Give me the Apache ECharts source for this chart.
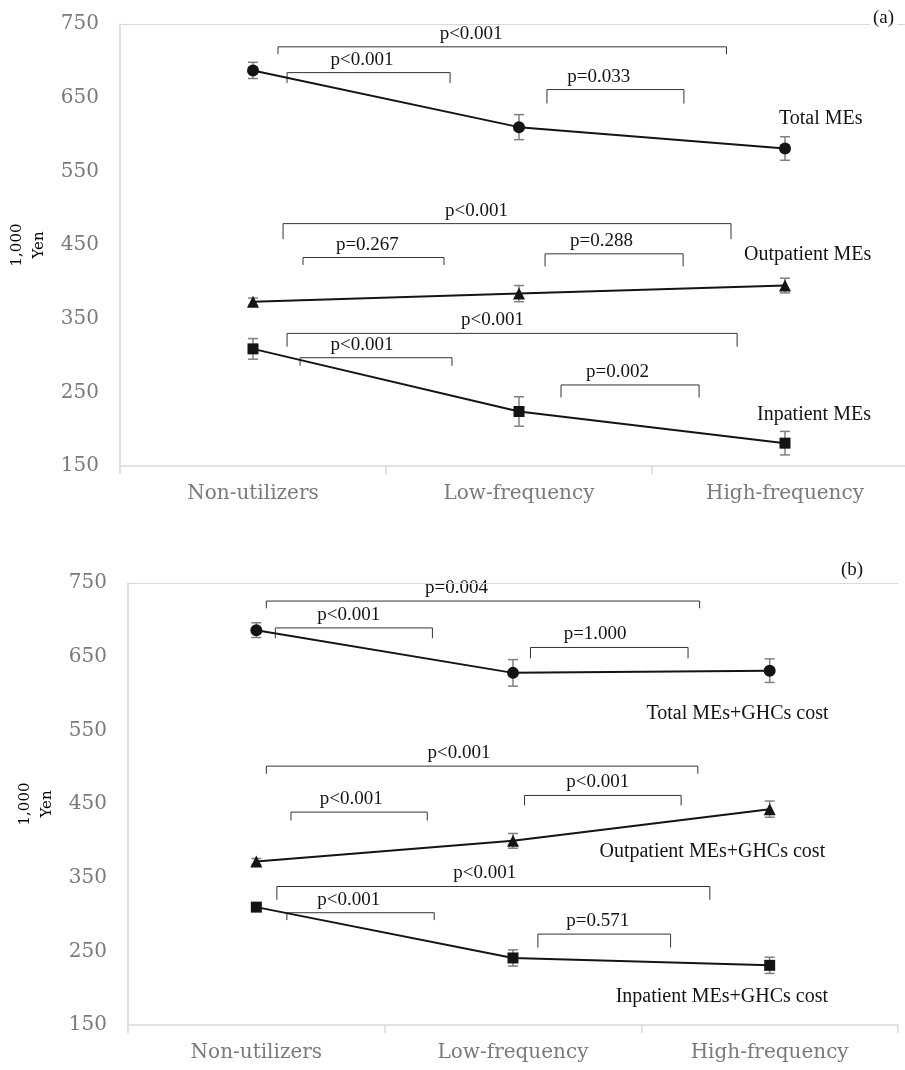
<!DOCTYPE html>
<html><head><meta charset="utf-8">
<script src="https://cdn.jsdelivr.net/npm/echarts@6/dist/echarts.min.js"></script>
<style>html,body{margin:0;padding:0;background:#fff}#c{width:905px;height:1070px}</style>
</head><body><div id="c"></div>
<script>
const categories = ['Non-utilizers', 'Low-frequency', 'High-frequency'];
const yMin = 150, yMax = 750, yStep = 100;

// Panel (a): means and error half-widths (1,000 Yen)
const aTotal = [687, 610, 581];
const aTotalErr = [11, 17, 16];
const aOut = [373, 384, 395];
const aOutErr = [5, 11, 10];
const aIn = [309, 224, 181];
const aInErr = [14, 20, 16];

// Panel (b)
const bTotal = [686, 628, 631];
const bTotalErr = [10, 18, 16];
const bOut = [372, 400, 443];
const bOutErr = [4, 10, 11];
const bIn = [310, 241, 231];
const bInErr = [5, 11, 11];

// Significance brackets: [x start, x end, y of bar, y of tick ends, x of text, text]
const bracketsA = [
  [0.094, 1.780, 719, 709, 0.82, 'p<0.001'],
  [0.128, 0.741, 684, 670, 0.41, 'p<0.001'],
  [1.105, 1.620, 661, 642, 1.30, 'p=0.033'],
  [0.113, 1.797, 479, 458, 0.84, 'p<0.001'],
  [0.188, 0.718, 433, 423, 0.43, 'p=0.267'],
  [1.098, 1.617, 438, 421, 1.31, 'p=0.288'],
  [0.128, 1.820, 330, 312, 0.90, 'p<0.001'],
  [0.177, 0.748, 297, 286, 0.41, 'p<0.001'],
  [1.158, 1.677, 260, 243, 1.37, 'p=0.002']
];
const bracketsB = [
  [0.039, 1.727, 725.5, 715.6, 0.78, 'p=0.004'],
  [0.074, 0.686, 689, 675, 0.36, 'p<0.001'],
  [1.068, 1.682, 662.5, 647.6, 1.32, 'p=1.000'],
  [0.039, 1.720, 501.4, 491, 0.79, 'p<0.001'],
  [0.135, 0.666, 439, 427.6, 0.37, 'p<0.001'],
  [1.045, 1.655, 461.6, 448, 1.33, 'p<0.001'],
  [0.080, 1.767, 338, 320, 0.89, 'p<0.001'],
  [0.119, 0.693, 302.4, 292.4, 0.36, 'p<0.001'],
  [1.097, 1.614, 273.4, 255.2, 1.33, 'p=0.571']
];

// Series name labels: [x, y, text]
const labelsA = [
  [1.977, 622, 'Total MEs'],
  [1.846, 437, 'Outpatient MEs'],
  [1.895, 220, 'Inpatient MEs']
];
const labelsB = [
  [1.52, 572, 'Total MEs+GHCs cost'],
  [1.337, 385, 'Outpatient MEs+GHCs cost'],
  [1.40, 188, 'Inpatient MEs+GHCs cost']
];

const AXIS_GRAY = '#d9d9d9';
const LABEL_GRAY = '#7a7a7a';
const INK = '#141414';

function pts(vals) { return vals.map((v, i) => [i, v]); }
function errPts(vals, errs) { return vals.map((v, i) => [i, v, errs[i]]); }

function errRender(params, api) {
  const x = api.value(0), v = api.value(1), e = api.value(2);
  const hi = api.coord([x, v + e]), lo = api.coord([x, v - e]);
  const w = 5;
  const st = { stroke: '#808080', lineWidth: 1.5 };
  return { type: 'group', children: [
    { type: 'line', shape: { x1: hi[0], y1: hi[1], x2: lo[0], y2: lo[1] }, style: st },
    { type: 'line', shape: { x1: hi[0] - w, y1: hi[1], x2: hi[0] + w, y2: hi[1] }, style: st },
    { type: 'line', shape: { x1: lo[0] - w, y1: lo[1], x2: lo[0] + w, y2: lo[1] }, style: st }
  ]};
}

function bracketRender(list) {
  return function (params, api) {
    const b = list[params.dataIndex];
    const a = api.coord([b[0], b[2]]), c = api.coord([b[1], b[2]]);
    const a2 = api.coord([b[0], b[3]]), c2 = api.coord([b[1], b[3]]);
    const t = api.coord([b[4], b[2]]);
    return { type: 'group', children: [
      { type: 'polyline', shape: { points: [[a2[0], a2[1]], [a[0], a[1]], [c[0], c[1]], [c2[0], c2[1]]] },
        style: { stroke: '#333', lineWidth: 1, fill: null } },
      { type: 'text', x: t[0], y: t[1] - 13,
        style: { text: b[5], align: 'center', verticalAlign: 'middle', fill: INK,
                 font: '19px "Liberation Serif"' } }
    ]};
  };
}

function labelRender(list) {
  return function (params, api) {
    const l = list[params.dataIndex];
    const p = api.coord([l[0], l[1]]);
    return { type: 'text', x: p[0], y: p[1],
      style: { text: l[2], align: 'left', verticalAlign: 'middle', fill: INK,
               font: '20px "Liberation Serif"' } };
  };
}

function panelSeries(g, total, totalErr, out, outErr, inp, inpErr, brackets, labels) {
  const xi = g * 2 + 1, yi = g;
  const lineCommon = (data, sym) => ({
    type: 'line', xAxisIndex: xi, yAxisIndex: yi, data: pts(data),
    symbol: sym, symbolSize: sym === 'rect' ? 11 : 12, z: 5,
    itemStyle: { color: INK }, lineStyle: { color: INK, width: 2 }, silent: true, animation: false
  });
  const errCommon = (data, errs) => ({
    type: 'custom', xAxisIndex: xi, yAxisIndex: yi, data: errPts(data, errs),
    renderItem: errRender, encode: { x: 0, y: 1 }, z: 4, silent: true, animation: false
  });
  const s1 = lineCommon(total, 'circle');
  s1.markLine = { silent: true, symbol: 'none', label: { show: false }, animation: false,
    lineStyle: { color: AXIS_GRAY, width: 1, type: 'solid' }, data: [{ yAxis: yMax }] };
  return [
    errCommon(total, totalErr), errCommon(out, outErr), errCommon(inp, inpErr),
    s1, lineCommon(out, 'triangle'), lineCommon(inp, 'rect'),
    { type: 'custom', xAxisIndex: xi, yAxisIndex: yi, data: brackets.map(b => [b[0], b[1], b[2], b[3], b[4]]),
      renderItem: bracketRender(brackets), encode: { x: [0, 1, 4], y: [2, 3] }, z: 3, silent: true, animation: false },
    { type: 'custom', xAxisIndex: xi, yAxisIndex: yi, data: labels.map(l => [l[0], l[1]]),
      renderItem: labelRender(labels), encode: { x: 0, y: 1 }, z: 3, silent: true, animation: false }
  ];
}

function catAxis(g) {
  return {
    type: 'category', gridIndex: g, data: categories, boundaryGap: true,
    axisLine: { onZero: false, lineStyle: { color: AXIS_GRAY, width: 1.5 } },
    axisTick: { show: true, length: 8, lineStyle: { color: AXIS_GRAY, width: 1.5 } },
    axisLabel: { margin: 18, fontFamily: 'DejaVu Serif', fontSize: 20, color: LABEL_GRAY },
    splitLine: { show: false }
  };
}
function valXAxis(g) {
  return { type: 'value', gridIndex: g, min: -0.5, max: 2.5, show: false,
           axisLine: { onZero: false }, splitLine: { show: false } };
}
function yAx(g, gap) {
  return {
    type: 'value', gridIndex: g, min: yMin, max: yMax, interval: yStep,
    name: '1,000\nYen', nameLocation: 'middle', nameRotate: 90, nameGap: gap,
    nameTextStyle: { fontFamily: 'DejaVu Serif', fontWeight: 'normal', fontSize: 15, color: '#000', lineHeight: 22 },
    axisLine: { show: true, onZero: false, lineStyle: { color: AXIS_GRAY, width: 1.5 } },
    axisTick: { show: false },
    splitLine: { show: false },
    axisLabel: { margin: 21, fontFamily: 'DejaVu Serif', fontSize: 20, color: LABEL_GRAY }
  };
}

const chart = echarts.init(document.getElementById('c'), null, { renderer: 'canvas' });
chart.setOption({
  backgroundColor: '#fff',
  animation: false,
  grid: [
    { left: 120, top: 24, width: 798, height: 442, outerBoundsMode: 'none', containLabel: false },
    { left: 128, top: 583, width: 770, height: 442, outerBoundsMode: 'none', containLabel: false }
  ],
  xAxis: [catAxis(0), valXAxis(0), catAxis(1), valXAxis(1)],
  yAxis: [yAx(0, 70), yAx(1, 66)],
  graphic: [
    { type: 'text', left: 870, top: 7, z: 100,
      style: { text: '(a)', font: '19px "Liberation Serif"', fill: INK, backgroundColor: '#fff', padding: [2, 3] } },
    { type: 'text', left: 841, top: 561, z: 100,
      style: { text: '(b)', font: '19px "Liberation Serif"', fill: INK } }
  ],
  series: [].concat(
    panelSeries(0, aTotal, aTotalErr, aOut, aOutErr, aIn, aInErr, bracketsA, labelsA),
    panelSeries(1, bTotal, bTotalErr, bOut, bOutErr, bIn, bInErr, bracketsB, labelsB)
  )
});
</script></body></html>
